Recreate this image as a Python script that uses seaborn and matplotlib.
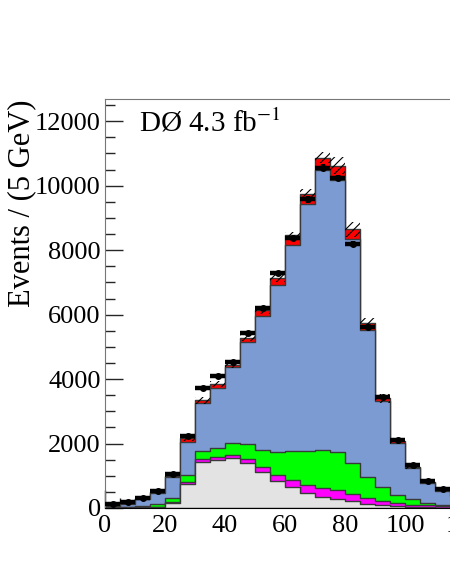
import numpy as np
import pandas as pd
import matplotlib
matplotlib.use('Agg')
import matplotlib.pyplot as plt
import seaborn as sns
from matplotlib.ticker import MultipleLocator

# bins of 5 GeV starting at 0
edges = [float(e) for e in range(0, 125, 5)]
centers = np.array(edges[:-1]) + 2.5

# cumulative stack tops
gray_top = [10, 15, 20, 25, 145, 744, 1426, 1488, 1540, 1385, 1105, 847, 641, 455, 331, 269, 227, 124, 100, 55, 25, 18, 12, 8]
magenta_top = [20, 30, 40, 45, 196, 817, 1519, 1581, 1654, 1519, 1261, 1023, 868, 703, 610, 558, 434, 320, 210, 140, 100, 80, 65, 45]
green_top = [30, 45, 60, 114, 300, 1010, 1767, 1870, 2005, 1974, 1809, 1747, 1760, 1778, 1809, 1736, 1406, 972, 641, 403, 270, 165, 93, 60]
blue_top = [62, 124, 270, 474, 971, 2056, 3245, 3731, 4362, 5137, 5953, 6905, 8155, 9426, 10481, 10192, 8331, 5519, 3328, 2025, 1240, 784, 536, 370]
red_top = [70, 135, 285, 490, 1000, 2160, 3349, 3835, 4434, 5281, 6140, 7130, 8465, 9736, 10874, 10626, 8641, 5726, 3400, 2080, 1275, 805, 550, 380]
syst = [4, 6, 10, 15, 30, 70, 110, 90, 90, 100, 120, 130, 100, 155, 175, 260, 230, 160, 150, 90, 50, 30, 20, 15]
data = [124, 196, 310, 527, 1044, 2233, 3711, 4093, 4540, 5416, 6191, 7277, 8362, 9572, 10564, 10233, 8186, 5622, 3440, 2108, 1333, 837, 589, 410]

layers = [
    (red_top, '#ff0000'),
    (blue_top, '#7c9bd2'),
    (green_top, '#00ff00'),
    (magenta_top, '#ff00ff'),
    (gray_top, '#e3e3e3'),
]

sns.set_style('ticks')
plt.rcParams['font.family'] = ['Liberation Serif', 'DejaVu Serif']
plt.rcParams['mathtext.fontset'] = 'stix'
plt.rcParams['hatch.color'] = 'black'
plt.rcParams['hatch.linewidth'] = 0.8

fig = plt.figure(figsize=(4.5, 5.82), dpi=100)
ax = fig.add_axes([105/450, 74/582, 450/450, 409/582])

for tops, col in layers:
    df = pd.DataFrame({'mass': centers, 'events': np.array(tops, dtype=float)})
    sns.histplot(data=df, x='mass', weights='events', bins=edges, element='step', fill=True,
                 color=col, alpha=1, edgecolor='#3a3a3a', linewidth=1.0, ax=ax)

# systematic band
tot = np.array(red_top)
unc = np.array(syst)
ax.bar(centers, 2*unc, bottom=tot-unc, width=5, fill=False, hatch='////',
       linewidth=0, edgecolor='black', zorder=3)

# data
d = np.array(data)
ax.errorbar(centers, d, xerr=2.5, yerr=np.sqrt(d), fmt='o', color='black',
            markersize=4, elinewidth=3.2, capsize=0, zorder=4)

ax.set_xlim(0, 150)
ax.set_ylim(0, 12690)
ax.xaxis.set_major_locator(MultipleLocator(20))
ax.xaxis.set_minor_locator(MultipleLocator(5))
ax.yaxis.set_major_locator(MultipleLocator(2000))
ax.yaxis.set_minor_locator(MultipleLocator(500))
ax.tick_params(which='major', direction='in', length=13, width=1, labelsize=19, pad=3,
               labelcolor='black')
ax.tick_params(which='minor', direction='in', length=7, width=1)
ax.tick_params(axis='x', pad=5)
ax.set_xlabel('')
ax.set_ylabel('Events / (5 GeV)', fontsize=22, loc='top', color='black')
ax.yaxis.set_label_coords(-0.152, 1.0)
for s in ['top', 'left']:
    ax.spines[s].set_color('#777777')
ax.spines['bottom'].set_color('black')

ax.text(0.075, 0.92, 'DØ 4.3 fb$^{-1}$', transform=ax.transAxes, fontsize=21,
        ha='left', va='baseline', color='black')

fig.savefig('out.png', dpi=100)
